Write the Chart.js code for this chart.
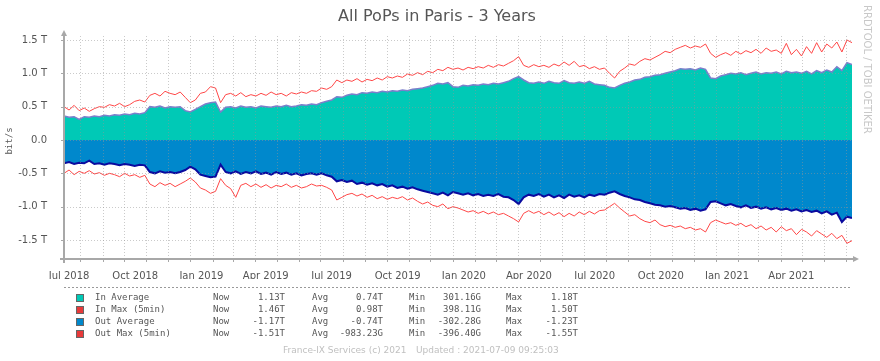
<!DOCTYPE html>
<html><head><meta charset="utf-8">
<script src="https://cdn.jsdelivr.net/npm/chart.js@4.4.1/dist/chart.umd.min.js"></script>
<style>html,body{margin:0;padding:0;background:#fff}#wrap{position:relative;width:880px;height:361px}</style>
</head><body><div id="wrap"><canvas id="c" width="880" height="361"></canvas></div>
<script>
// Weekly samples (T bit/s), 9 Jul 2018 -> 9 Jul 2021
const inAvg=[0.36,0.34,0.35,0.31,0.35,0.34,0.36,0.35,0.37,0.36,
0.38,0.37,0.39,0.38,0.40,0.39,0.41,0.50,0.49,0.51,
0.48,0.50,0.49,0.50,0.44,0.42,0.46,0.50,0.54,0.56,
0.57,0.42,0.49,0.50,0.48,0.51,0.49,0.50,0.48,0.51,
0.50,0.49,0.51,0.50,0.52,0.50,0.51,0.53,0.52,0.54,
0.53,0.56,0.58,0.60,0.65,0.64,0.67,0.69,0.68,0.71,
0.70,0.72,0.71,0.73,0.72,0.74,0.73,0.75,0.74,0.76,
0.77,0.78,0.80,0.82,0.85,0.84,0.86,0.80,0.79,0.82,
0.81,0.83,0.82,0.84,0.83,0.85,0.84,0.86,0.88,0.92,
0.95,0.90,0.86,0.85,0.87,0.85,0.88,0.86,0.85,0.89,
0.86,0.85,0.87,0.85,0.88,0.84,0.83,0.82,0.79,0.78,
0.82,0.85,0.87,0.90,0.91,0.94,0.95,0.97,0.98,1.00,
1.02,1.04,1.07,1.06,1.07,1.05,1.08,1.06,0.93,0.92,
0.96,0.98,1.00,0.99,1.01,0.98,1.00,1.02,0.99,1.01,
1.00,1.02,0.99,1.03,1.01,1.02,1.00,1.03,0.99,1.04,
1.01,1.05,1.02,1.10,1.04,1.16,1.13];
const inMax=[0.50,0.45,0.52,0.44,0.48,0.43,0.47,0.50,0.49,0.53,
0.51,0.55,0.50,0.53,0.58,0.60,0.57,0.67,0.70,0.66,
0.73,0.70,0.68,0.72,0.64,0.56,0.60,0.70,0.72,0.80,
0.78,0.56,0.68,0.70,0.66,0.71,0.65,0.68,0.66,0.70,
0.67,0.72,0.68,0.70,0.66,0.71,0.69,0.72,0.70,0.74,
0.73,0.78,0.76,0.80,0.90,0.86,0.90,0.88,0.92,0.87,
0.91,0.89,0.93,0.90,0.95,0.93,0.96,0.94,0.99,0.97,
1.01,0.98,1.03,1.01,1.06,1.04,1.09,1.06,1.08,1.05,
1.09,1.07,1.10,1.08,1.12,1.09,1.13,1.11,1.15,1.19,
1.25,1.12,1.09,1.13,1.10,1.12,1.09,1.14,1.11,1.17,
1.12,1.18,1.10,1.12,1.07,1.10,1.06,1.08,1.00,0.93,
1.03,1.08,1.14,1.12,1.18,1.22,1.20,1.24,1.28,1.33,
1.31,1.36,1.39,1.42,1.38,1.41,1.39,1.44,1.30,1.24,
1.28,1.31,1.27,1.33,1.29,1.34,1.31,1.36,1.30,1.38,
1.33,1.35,1.30,1.45,1.28,1.36,1.26,1.40,1.30,1.46,
1.32,1.44,1.38,1.47,1.32,1.50,1.46];
const outAvg=[-0.35,-0.33,-0.36,-0.34,-0.35,-0.31,-0.36,-0.35,-0.37,-0.35,
-0.36,-0.38,-0.36,-0.37,-0.39,-0.37,-0.38,-0.48,-0.50,-0.47,
-0.49,-0.48,-0.50,-0.48,-0.45,-0.40,-0.44,-0.52,-0.54,-0.56,
-0.55,-0.37,-0.48,-0.50,-0.47,-0.51,-0.48,-0.50,-0.47,-0.51,
-0.49,-0.52,-0.48,-0.51,-0.49,-0.52,-0.50,-0.53,-0.51,-0.50,
-0.52,-0.50,-0.53,-0.55,-0.62,-0.60,-0.63,-0.61,-0.66,-0.64,
-0.67,-0.65,-0.68,-0.66,-0.70,-0.68,-0.72,-0.70,-0.73,-0.71,
-0.74,-0.76,-0.78,-0.80,-0.82,-0.79,-0.83,-0.78,-0.80,-0.82,
-0.80,-0.83,-0.81,-0.84,-0.82,-0.84,-0.81,-0.85,-0.86,-0.90,
-0.96,-0.86,-0.82,-0.84,-0.81,-0.85,-0.82,-0.86,-0.83,-0.87,
-0.82,-0.85,-0.83,-0.86,-0.82,-0.84,-0.81,-0.82,-0.79,-0.77,
-0.81,-0.84,-0.86,-0.89,-0.90,-0.93,-0.95,-0.97,-0.98,-1.00,
-0.99,-1.01,-1.03,-1.02,-1.05,-1.03,-1.06,-1.04,-0.93,-0.92,
-0.95,-0.98,-0.96,-0.99,-1.01,-0.98,-1.02,-1.00,-1.03,-1.01,
-1.04,-1.02,-1.05,-1.03,-1.06,-1.04,-1.07,-1.05,-1.08,-1.06,
-1.10,-1.07,-1.12,-1.09,-1.23,-1.15,-1.17];
const outMax=[-0.50,-0.45,-0.52,-0.47,-0.50,-0.46,-0.51,-0.49,-0.53,-0.50,
-0.52,-0.55,-0.50,-0.54,-0.52,-0.56,-0.53,-0.66,-0.70,-0.64,
-0.68,-0.65,-0.70,-0.66,-0.62,-0.57,-0.63,-0.72,-0.75,-0.80,
-0.77,-0.58,-0.68,-0.73,-0.86,-0.68,-0.65,-0.70,-0.66,-0.71,
-0.67,-0.72,-0.68,-0.70,-0.66,-0.71,-0.68,-0.72,-0.70,-0.66,
-0.69,-0.68,-0.71,-0.75,-0.90,-0.86,-0.82,-0.80,-0.84,-0.81,
-0.86,-0.83,-0.88,-0.85,-0.89,-0.86,-0.88,-0.85,-0.90,-0.87,
-0.92,-0.96,-0.93,-0.98,-1.00,-0.96,-1.03,-1.00,-1.02,-1.05,
-1.08,-1.06,-1.10,-1.07,-1.11,-1.08,-1.12,-1.10,-1.14,-1.18,
-1.23,-1.10,-1.06,-1.10,-1.07,-1.12,-1.08,-1.13,-1.09,-1.15,
-1.10,-1.14,-1.08,-1.12,-1.07,-1.11,-1.06,-1.05,-1.00,-0.95,
-1.02,-1.08,-1.14,-1.12,-1.18,-1.22,-1.24,-1.20,-1.27,-1.30,
-1.28,-1.31,-1.29,-1.33,-1.31,-1.35,-1.33,-1.38,-1.24,-1.20,
-1.23,-1.26,-1.24,-1.28,-1.25,-1.30,-1.27,-1.33,-1.29,-1.35,
-1.31,-1.38,-1.30,-1.36,-1.33,-1.42,-1.34,-1.38,-1.44,-1.36,
-1.41,-1.46,-1.40,-1.48,-1.43,-1.55,-1.51];

const seriesNames=["In Average","In Max (5min)","Out Average","Out Max (5min)"];
const legendNow=["1.13T","1.46T","-1.17T","-1.51T"];
const legendAvg=["0.74T","0.98T","-0.74T","-983.23G"];
const legendMin=["301.16G","398.11G","-302.28G","-396.40G"];
const legendMax=["1.18T","1.50T","-1.23T","-1.55T"];
const yTickValues=[-1.5,-1.0,-0.5,0,0.5,1.0,1.5];
const quarterLabels=["Jul 2018","Oct 2018","Jan 2019","Apr 2019","Jul 2019","Oct 2019","Jan 2020","Apr 2020","Jul 2020","Oct 2020","Jan 2021","Apr 2021"];
const quarterMonths=[[2018,6],[2018,9],[2019,0],[2019,3],[2019,6],[2019,9],[2020,0],[2020,3],[2020,6],[2020,9],[2021,0],[2021,3]];
const titleText="All PoPs in Paris - 3 Years";
const footerLeft="France-IX Services (c) 2021";
const footerRight="Updated : 2021-07-09 09:25:03";
const watermark="RRDTOOL / TOBI OETIKER";

const colors={inAvg:"#00C9B6",inAvgLine:"#7C7FCB",inMax:"#FF4747",outAvg:"#0088CC",outAvgLine:"#0A0A9E",outMax:"#FF4747"};

const T0=Date.UTC(2018,6,9,9,25);
const SPAN=(Date.UTC(2021,6,9,9,25)-T0)/864e5;
const dayOf=(y,m,d,h)=>(Date.UTC(y,m,d,h||0)-T0)/864e5;
const step=SPAN/(inAvg.length-1);
const pts=a=>a.map((v,i)=>({x:i*step,y:v}));
const quarterPos=quarterMonths.map(([y,m])=>{const a=dayOf(y,m,1),b=dayOf(y,m+1,1);return (a+b)/2;});
const monthLines=[];
for(let y=2018;y<=2021;y++)for(let m=0;m<12;m++){const d=dayOf(y,m,1);if(d>0&&d<SPAN)monthLines.push(d);}

const overlay={
 id:'overlay',
 afterDatasetsDraw(chart){
  const c=chart.ctx,a=chart.chartArea,xs=chart.scales.x,ys=chart.scales.y;
  c.save();
  c.lineWidth=1;c.strokeStyle="rgba(150,150,150,0.5)";c.setLineDash([1,2]);
  monthLines.forEach(d=>{const px=Math.round(xs.getPixelForValue(d))+0.5;c.beginPath();c.moveTo(px,a.top);c.lineTo(px,a.bottom);c.stroke();});
  yTickValues.forEach(v=>{const py=Math.round(ys.getPixelForValue(v))+0.5;c.beginPath();c.moveTo(a.left,py);c.lineTo(a.right,py);c.stroke();});
  c.setLineDash([]);
  // axes
  c.strokeStyle="#A8A8A8";c.fillStyle="#A8A8A8";c.lineWidth=2;
  c.beginPath();c.moveTo(a.left-4,a.bottom);c.lineTo(a.right+2,a.bottom);c.stroke();
  c.beginPath();c.moveTo(a.left,a.bottom+4);c.lineTo(a.left,a.top-1);c.stroke();
  c.beginPath();c.moveTo(a.right+7,a.bottom);c.lineTo(a.right+1,a.bottom-3);c.lineTo(a.right+1,a.bottom+3);c.closePath();c.fill();
  c.beginPath();c.moveTo(a.left,a.top-6);c.lineTo(a.left-3,a.top);c.lineTo(a.left+3,a.top);c.closePath();c.fill();
  c.lineWidth=1;
  monthLines.forEach(d=>{const px=Math.round(xs.getPixelForValue(d))+0.5;c.beginPath();c.moveTo(px,a.bottom+1);c.lineTo(px,a.bottom+3);c.stroke();});
  yTickValues.forEach(v=>{const py=Math.round(ys.getPixelForValue(v))+0.5;c.beginPath();c.moveTo(a.left-3,py);c.lineTo(a.left-1,py);c.stroke();});
  c.restore();
 },
 afterDraw(chart){
  const c=chart.ctx,a=chart.chartArea;
  c.save();
  c.fillStyle="#555";c.font='16px "DejaVu Sans"';c.textAlign="center";c.textBaseline="middle";
  c.fillText(titleText,437,17);
  // y title
  c.save();c.translate(10,141);c.rotate(-Math.PI/2);c.font='9px "DejaVu Sans Mono"';c.fillStyle="#555";c.fillText("bit/s",0,0);c.restore();
  // watermark
  c.save();c.translate(867,5);c.rotate(Math.PI/2);c.font='10px "DejaVu Sans"';c.fillStyle="#C8C8C8";c.textAlign="left";c.fillText(watermark,0,0);c.restore();
  // dashed separator
  c.strokeStyle="#999";c.lineWidth=1;c.setLineDash([2,2]);
  c.beginPath();c.moveTo(a.left,287.5);c.lineTo(a.right,287.5);c.stroke();c.setLineDash([]);
  // legend
  const sq=[colors.inAvg,"#E83A3A",colors.outAvg,"#E83A3A"];
  c.font='9px "DejaVu Sans Mono"';c.textBaseline="middle";c.fillStyle="#555";
  for(let i=0;i<4;i++){
   const y=298+i*12;
   c.fillStyle=sq[i];c.fillRect(76,y-4,8,8);c.strokeStyle="#666";c.strokeRect(76.5,y-3.5,7,7);
   c.fillStyle="#555";
   c.textAlign="left";c.fillText(seriesNames[i],95,y);c.fillText("Now",213,y);c.fillText("Avg",312,y);c.fillText("Min",409,y);c.fillText("Max",506,y);
   c.textAlign="right";c.fillText(legendNow[i],285,y);c.fillText(legendAvg[i],383,y);c.fillText(legendMin[i],481,y);c.fillText(legendMax[i],578,y);
  }
  c.font='9px "DejaVu Sans"';c.fillStyle="#C0C0C0";c.textAlign="left";
  c.fillText(footerLeft,283,351);c.fillText(footerRight,416,351);
  c.restore();
 }
};

new Chart(document.getElementById('c'),{
 type:'line',
 data:{datasets:[
  {label:seriesNames[1],data:pts(inMax),borderColor:colors.inMax,borderWidth:1,fill:false,pointRadius:0,tension:0,order:0},
  {label:seriesNames[3],data:pts(outMax),borderColor:colors.outMax,borderWidth:1,fill:false,pointRadius:0,tension:0,order:1},
  {label:seriesNames[0],data:pts(inAvg),borderColor:colors.inAvgLine,backgroundColor:colors.inAvg,borderWidth:1.5,fill:'origin',pointRadius:0,tension:0,order:2},
  {label:seriesNames[2],data:pts(outAvg),borderColor:colors.outAvgLine,backgroundColor:colors.outAvg,borderWidth:2,fill:'origin',pointRadius:0,tension:0,order:3}
 ]},
 options:{
  responsive:false,animation:false,
  layout:{padding:{left:0,right:28,top:36,bottom:82}},
  plugins:{legend:{display:false},tooltip:{enabled:false},title:{display:false}},
  scales:{
   x:{type:'linear',min:0,max:SPAN,grid:{display:false},border:{display:false},
      afterBuildTicks:s=>{s.ticks=quarterPos.map(v=>({value:v}));},
      afterFit:s=>{s.height=20;},
      ticks:{autoSkip:false,maxRotation:0,padding:3,color:"#555",font:{family:"DejaVu Sans",size:10},callback:(v,i)=>quarterLabels[i]}},
   y:{min:-1.785,max:1.56,grid:{display:false},border:{display:false},
      afterBuildTicks:s=>{s.ticks=yTickValues.map(v=>({value:v}));},
      afterFit:s=>{s.width=64;},
      ticks:{padding:9,color:"#555",font:{family:"DejaVu Sans",size:10},callback:v=>v===0?"0.0":v.toFixed(1)+" T"}}
  }
 },
 plugins:[overlay]
});
</script></body></html>
